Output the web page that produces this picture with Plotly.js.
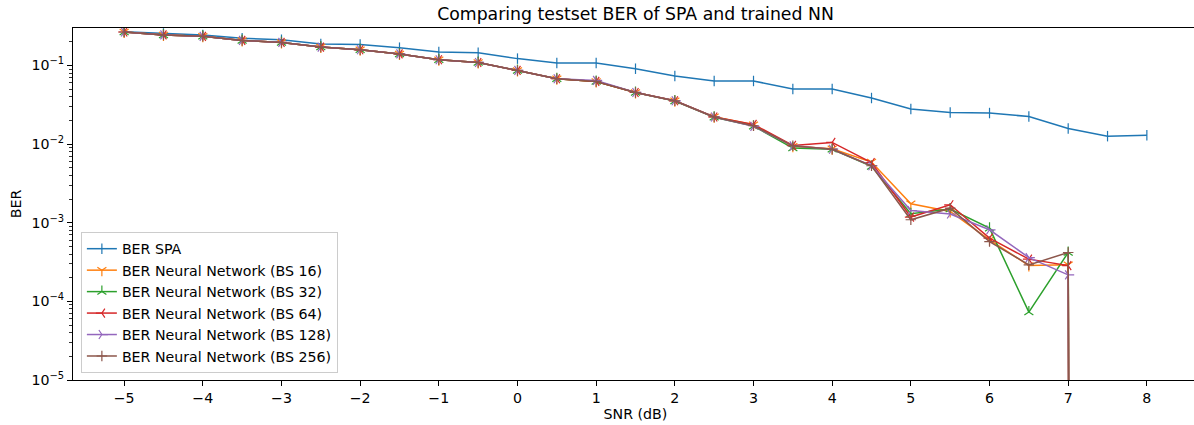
<!DOCTYPE html>
<html>
<head>
<meta charset="utf-8">
<script src="https://cdn.plot.ly/plotly-3.0.1.min.js"></script>
<style>
html, body { margin: 0; padding: 0; overflow: hidden; background: #fff; }
#chart { width: 1200px; height: 425px; }
</style>
</head>
<body>
<div id="chart"></div>
<script>
// SNR values (dB)
const snr = [-5, -4.5, -4, -3.5, -3, -2.5, -2, -1.5, -1, -0.5, 0, 0.5, 1, 1.5, 2, 2.5, 3, 3.5, 4, 4.5, 5, 5.5, 6, 6.5, 7, 7.5, 8];

const berSPA = [0.268, 0.255, 0.244, 0.221, 0.212, 0.187, 0.185, 0.168, 0.148, 0.145, 0.122, 0.107, 0.107, 0.0908, 0.0733, 0.0634, 0.0634, 0.0501, 0.0501, 0.0385, 0.0279, 0.0252, 0.0248, 0.0224, 0.0158, 0.0126, 0.0129];

const berBS16  = [0.266, 0.244, 0.234, 0.208, 0.196, 0.171, 0.158, 0.140, 0.118, 0.109, 0.0863, 0.0677, 0.0626, 0.0453, 0.0355, 0.0222, 0.0176, 0.0094, 0.0087, 0.0059, 0.00174, 0.00139, 0.000605, 0.000285, 0.000291, 0, 0];
const berBS32  = [0.266, 0.244, 0.234, 0.208, 0.196, 0.171, 0.158, 0.140, 0.118, 0.109, 0.0863, 0.0677, 0.0626, 0.0453, 0.0352, 0.0219, 0.0169, 0.0089, 0.0086, 0.0052, 0.00130, 0.00149, 0.000853, 0.0000730, 0.000418, 0, 0];
const berBS64  = [0.266, 0.244, 0.234, 0.208, 0.196, 0.171, 0.158, 0.140, 0.118, 0.109, 0.0863, 0.0677, 0.0626, 0.0453, 0.0355, 0.0221, 0.0178, 0.0096, 0.0105, 0.00583, 0.00118, 0.00169, 0.000637, 0.000344, 0.000285, 0, 0];
const berBS128 = [0.266, 0.244, 0.234, 0.208, 0.196, 0.171, 0.158, 0.140, 0.118, 0.109, 0.0863, 0.0677, 0.0645, 0.0453, 0.0355, 0.0221, 0.0168, 0.0095, 0.0086, 0.0053, 0.00143, 0.00129, 0.000813, 0.000360, 0.000217, 0, 0];
const berBS256 = [0.266, 0.244, 0.234, 0.208, 0.196, 0.171, 0.158, 0.140, 0.118, 0.109, 0.0863, 0.0677, 0.0626, 0.0453, 0.0355, 0.0221, 0.0171, 0.0095, 0.0086, 0.0053, 0.00109, 0.00153, 0.000576, 0.000291, 0.000418, 0, 0];

const seriesNames = ["BER SPA", "BER Neural Network (BS 16)", "BER Neural Network (BS 32)", "BER Neural Network (BS 64)", "BER Neural Network (BS 128)", "BER Neural Network (BS 256)"];
const seriesValues = [berSPA, berBS16, berBS32, berBS64, berBS128, berBS256];
const seriesColors = ["#1f77b4", "#ff7f0e", "#2ca02c", "#d62728", "#9467bd", "#8c564b"];
const seriesSymbols = ["line-ns", "y-down", "y-up", "y-left", "y-right", "cross-thin"];

const xTickVals = [-5, -4, -3, -2, -1, 0, 1, 2, 3, 4, 5, 6, 7, 8];
const xTickText = ["\u22125", "\u22124", "\u22123", "\u22122", "\u22121", "0", "1", "2", "3", "4", "5", "6", "7", "8"];
const yTickVals = [1e-5, 1e-4, 1e-3, 1e-2, 1e-1];
const yTickText = ["10<sup>\u22125</sup>", "10<sup>\u22124</sup>", "10<sup>\u22123</sup>", "10<sup>\u22122</sup>", "10<sup>\u22121</sup>"];

// matplotlib clips non-positive values on a log axis to a vanishingly small number
const clipLog = v => (v > 0 ? v : 1e-300);

const traces = seriesValues.map((vals, i) => ({
  x: snr,
  y: vals.map(clipLog),
  name: seriesNames[i],
  type: "scatter",
  mode: "lines+markers",
  line: { color: seriesColors[i], width: 1.5 },
  marker: {
    symbol: seriesSymbols[i],
    size: 7.5,
    color: seriesColors[i],
    line: { color: seriesColors[i], width: 1.2 }
  },
  cliponaxis: true
}));

const font = "DejaVu Sans, sans-serif";
const fs = 14.2;

const layout = {
  width: 1200,
  height: 425,
  margin: { l: 73, r: 2, t: 28, b: 45 },
  paper_bgcolor: "#ffffff",
  plot_bgcolor: "#ffffff",
  font: { family: font, size: fs, color: "#000" },
  title: {
    text: "Comparing testset BER of SPA and trained NN",
    font: { family: font, size: 17.3, color: "#000" },
    x: 0.5, xref: "paper", xanchor: "center",
    y: 1 - 14 / 425, yref: "container", yanchor: "middle"
  },
  xaxis: {
    range: [-5.65, 8.65],
    tickvals: xTickVals,
    ticktext: xTickText,
    showgrid: false,
    zeroline: false,
    showline: true,
    linecolor: "#000",
    linewidth: 1,
    mirror: true,
    ticks: "outside",
    ticklen: 5,
    tickwidth: 1,
    tickcolor: "#000",
    tickfont: { family: font, size: fs, color: "#000" },
    title: { text: "SNR (dB)", font: { family: font, size: fs, color: "#000" }, standoff: 4 }
  },
  yaxis: {
    type: "log",
    range: [-5, Math.log10(0.299)],
    tickvals: yTickVals,
    ticktext: yTickText,
    showgrid: false,
    zeroline: false,
    showline: true,
    linecolor: "#000",
    linewidth: 1,
    mirror: true,
    ticks: "outside",
    ticklen: 5,
    tickwidth: 1,
    tickcolor: "#000",
    tickfont: { family: font, size: fs, color: "#000" },
    minor: { ticks: "outside", ticklen: 3, tickwidth: 0.8, tickcolor: "#000", dtick: "D1", showgrid: false },
    title: { text: "BER", font: { family: font, size: fs, color: "#000" }, standoff: 6 }
  },
  showlegend: true,
  legend: {
    x: 0.007, xanchor: "left",
    y: 0.02, yanchor: "bottom",
    bgcolor: "rgba(255,255,255,0.8)",
    bordercolor: "#cccccc",
    borderwidth: 1,
    font: { family: font, size: fs, color: "#000" },
    tracegroupgap: 0,
    itemwidth: 30
  }
};

Plotly.newPlot("chart", traces, layout, { displayModeBar: false, staticPlot: true });
</script>
</body>
</html>
